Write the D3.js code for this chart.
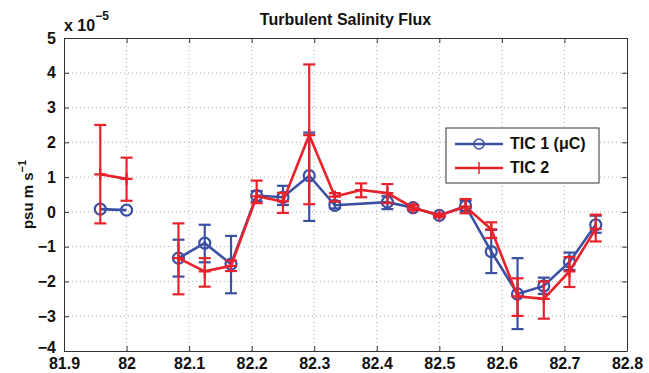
<!DOCTYPE html>
<html lang="en">
<head>
  <meta charset="UTF-8">
  <title>Turbulent Salinity Flux</title>
  <style>
    body { margin: 0; background: #fff; }
    svg { display: block; font-family: "Liberation Sans", Arial, sans-serif; font-weight: bold; }
    .grid line { stroke: #b0b0b0; stroke-width: 1; stroke-dasharray: 1,3; }
  </style>
</head>
<body>
  <div id="chart"></div>

  <script src="https://d3js.org/d3.v7.min.js"></script>
  <script>
    // data (units of 1e-5 psu m/s), null = gap
    const blueX  = [81.958, 82.0, 82.042, 82.083, 82.125, 82.167, 82.208, 82.25, 82.292, 82.333, 82.417, 82.458, 82.5, 82.542, 82.583, 82.625, 82.667, 82.708, 82.75];
    const blueY  = [0.08, 0.05, null, -1.33, -0.9, -1.5, 0.47, 0.42, 1.04, 0.19, 0.28, 0.12, -0.1, 0.17, -1.14, -2.36, -2.13, -1.44, -0.37];
    const blueLo = [null, null, null, -1.86, -1.45, -2.34, 0.3, 0.2, -0.26, 0.1, 0.08, 0.05, -0.15, 0.02, -1.76, -3.37, -2.36, -1.67, -0.6];
    const blueHi = [null, null, null, -0.8, -0.37, -0.69, 0.6, 0.75, 2.28, 0.3, 0.45, 0.2, -0.05, 0.32, -0.52, -1.33, -1.89, -1.17, -0.11];

    const redX  = [81.958, 82.0, 82.042, 82.083, 82.125, 82.167, 82.208, 82.25, 82.292, 82.333, 82.375, 82.417, 82.458, 82.5, 82.542, 82.583, 82.625, 82.667, 82.708, 82.75];
    const redY  = [1.08, 0.95, null, -1.33, -1.71, -1.55, 0.45, 0.3, 2.21, 0.44, 0.63, 0.54, 0.12, -0.1, 0.15, -0.5, -2.43, -2.5, -1.71, -0.49];
    const redLo = [-0.33, 0.32, null, -2.37, -2.15, -1.7, 0.25, -0.03, 0.22, 0.3, 0.42, 0.25, 0.05, -0.15, -0.04, -0.75, -2.99, -3.07, -2.16, -0.85];
    const redHi = [2.5, 1.56, null, -0.33, -1.33, -1.4, 0.9, 0.55, 4.24, 0.54, 0.82, 0.8, 0.2, -0.05, 0.37, -0.3, -1.91, -2.0, -1.3, -0.08];

    const xTicks = [81.9, 82, 82.1, 82.2, 82.3, 82.4, 82.5, 82.6, 82.7, 82.8];
    const yTicks = [-4, -3, -2, -1, 0, 1, 2, 3, 4, 5];
    const legendLabels = ["TIC 1 (\u03bcC)", "TIC 2"];

    const width = 649, height = 373;
    const margin = {left: 64, right: 22, top: 38, bottom: 22};
    const blue = "#3a50a3", red = "#e8222b";

    const svg = d3.select("#chart").append("svg")
      .attr("width", width).attr("height", height);

    const x = d3.scaleLinear().domain([81.9, 82.8]).range([margin.left, width - margin.right]);
    const y = d3.scaleLinear().domain([-4, 5]).range([height - margin.bottom, margin.top]);

    // grid
    const grid = svg.append("g").attr("class", "grid");
    grid.selectAll(".gx").data(xTicks.slice(1, -1)).enter().append("line")
      .attr("x1", d => x(d)).attr("x2", d => x(d))
      .attr("y1", y(5)).attr("y2", y(-4));
    grid.selectAll(".gy").data(yTicks.slice(1, -1)).enter().append("line")
      .attr("x1", x(81.9)).attr("x2", x(82.8))
      .attr("y1", d => y(d)).attr("y2", d => y(d));

    // axes
    const fmt = d => d3.format("")(d).replace("-", "\u2212");
    const axisColor = "#333";
    const xAxis = svg.append("g").attr("transform", `translate(0,${y(-4)})`)
      .call(d3.axisBottom(x).tickValues(xTicks).tickFormat(d => d).tickSizeInner(-5).tickSizeOuter(0).tickPadding(7));
    const xAxisTop = svg.append("g").attr("transform", `translate(0,${y(5)})`)
      .call(d3.axisTop(x).tickValues(xTicks).tickFormat("").tickSizeInner(-5).tickSizeOuter(0));
    const yAxis = svg.append("g").attr("transform", `translate(${x(81.9)},0)`)
      .call(d3.axisLeft(y).tickValues(yTicks).tickFormat(fmt).tickSizeInner(-5).tickSizeOuter(0).tickPadding(8));
    const yAxisRight = svg.append("g").attr("transform", `translate(${x(82.8)},0)`)
      .call(d3.axisRight(y).tickValues(yTicks).tickFormat("").tickSizeInner(-5).tickSizeOuter(0));
    [xAxis, xAxisTop, yAxis, yAxisRight].forEach(g => {
      g.select(".domain").attr("stroke", axisColor);
      g.selectAll(".tick line").attr("stroke", axisColor);
      g.selectAll("text").attr("font-size", 16).attr("font-weight", "bold")
        .attr("font-family", "Liberation Sans, Arial, sans-serif").attr("fill", "#111");
    });
    // lowest y label sits a little higher so it clears the x labels
    yAxis.selectAll(".tick text").filter(d => d === -4).attr("dy", "0.1em");

    // series
    function drawSeries(xs, ys, lo, hi, color, marker) {
      const pts = xs.map((d, i) => ({x: d, y: ys[i], lo: lo[i], hi: hi[i]}));
      const g = svg.append("g");
      const bars = pts.filter(p => p.lo != null && p.hi != null);
      const cap = 6;
      bars.forEach(p => {
        g.append("line").attr("x1", x(p.x)).attr("x2", x(p.x))
          .attr("y1", y(p.lo)).attr("y2", y(p.hi))
          .attr("stroke", color).attr("stroke-width", 2.2);
        [p.lo, p.hi].forEach(v => {
          g.append("line").attr("x1", x(p.x) - cap).attr("x2", x(p.x) + cap)
            .attr("y1", y(v)).attr("y2", y(v))
            .attr("stroke", color).attr("stroke-width", 2.2);
        });
      });
      const line = d3.line().defined(p => p.y != null).x(p => x(p.x)).y(p => y(p.y));
      g.append("path").datum(pts).attr("d", line)
        .attr("fill", "none").attr("stroke", color).attr("stroke-width", 2.6);
      const valid = pts.filter(p => p.y != null);
      if (marker === "o") {
        g.selectAll("circle").data(valid).enter().append("circle")
          .attr("cx", p => x(p.x)).attr("cy", p => y(p.y)).attr("r", 5.5)
          .attr("fill", "none").attr("stroke", color).attr("stroke-width", 2.2);
      } else {
        g.selectAll(".plus").data(valid).enter().append("path")
          .attr("d", p => `M${x(p.x)},${y(p.y) - 6}V${y(p.y) + 6}M${x(p.x) - 6},${y(p.y)}H${x(p.x) + 6}`)
          .attr("stroke", color).attr("stroke-width", 2.2).attr("fill", "none");
      }
    }
    drawSeries(blueX, blueY, blueLo, blueHi, blue, "o");
    drawSeries(redX, redY, redLo, redHi, red, "+");

    // title and labels
    svg.append("text").attr("x", (x(81.9) + x(82.8)) / 2).attr("y", 25)
      .attr("text-anchor", "middle").attr("font-size", 16).attr("fill", "#111")
      .text("Turbulent Salinity Flux");

    const mult = svg.append("text").attr("x", 64).attr("y", 31).attr("font-size", 16).attr("fill", "#111");
    mult.append("tspan").text("x 10");
    mult.append("tspan").attr("dy", -11).attr("font-size", 12).text("\u22125");

    const yl = svg.append("text")
      .attr("transform", `translate(33,${(y(5) + y(-4)) / 2}) rotate(-90)`)
      .attr("text-anchor", "middle").attr("font-size", 15).attr("fill", "#111");
    yl.append("tspan").text("psu m s");
    yl.append("tspan").attr("dy", -7).attr("font-size", 11).text("\u22121");

    // legend
    const lg = svg.append("g").attr("transform", "translate(446,128)");
    lg.append("rect").attr("width", 153).attr("height", 55)
      .attr("fill", "#fff").attr("stroke", axisColor).attr("stroke-width", 1);
    [[blue, "o"], [red, "+"]].forEach((s, i) => {
      const cy = 16 + i * 24;
      lg.append("line").attr("x1", 9).attr("x2", 57).attr("y1", cy).attr("y2", cy)
        .attr("stroke", s[0]).attr("stroke-width", 2.5);
      if (s[1] === "o") {
        lg.append("circle").attr("cx", 33).attr("cy", cy).attr("r", 5)
          .attr("fill", "none").attr("stroke", s[0]).attr("stroke-width", 1.5);
      } else {
        lg.append("line").attr("x1", 33).attr("x2", 33).attr("y1", cy - 6).attr("y2", cy + 6)
          .attr("stroke", s[0]).attr("stroke-width", 1.5);
      }
      lg.append("text").attr("x", 64).attr("y", cy + 5).attr("font-size", 16).attr("fill", "#111")
        .text(legendLabels[i]);
    });
  </script>
</body>
</html>
